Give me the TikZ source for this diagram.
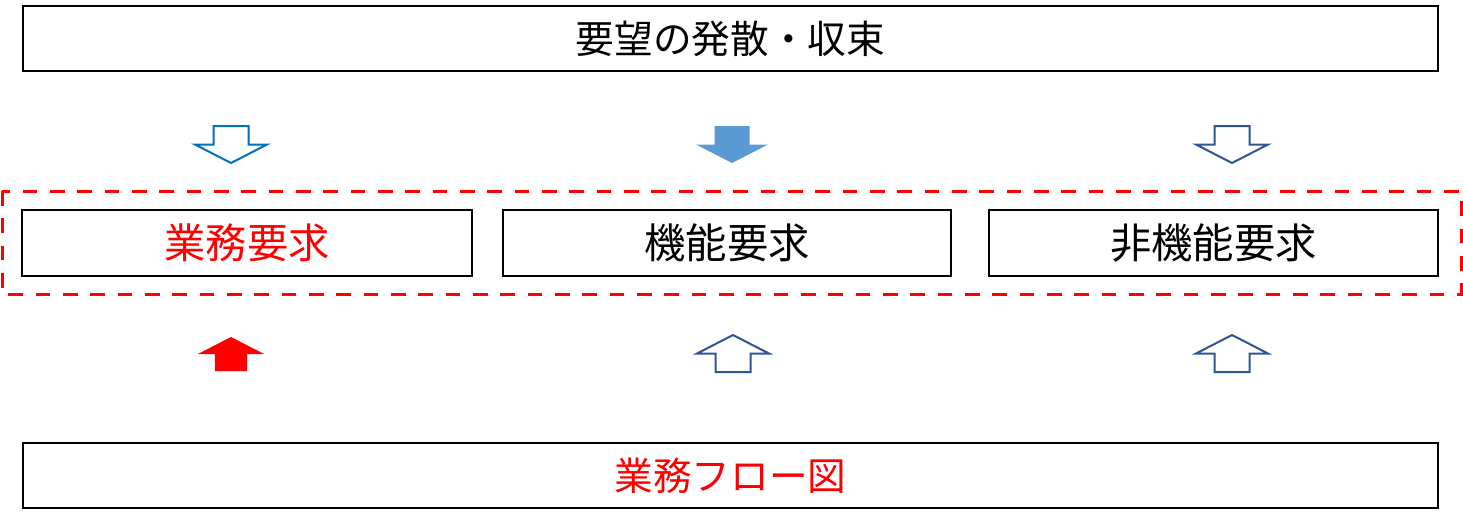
\documentclass[tikz,border=0pt]{standalone}
\usepackage{fontspec}
\setmainfont{Noto Sans CJK JP}
\usetikzlibrary{positioning}
\definecolor{arrowblue}{HTML}{0070C0}
\definecolor{arrowfill}{HTML}{5B9BD5}
\definecolor{arrowdark}{HTML}{2F5597}

\begin{document}
\begin{tikzpicture}[x=0.75pt,y=-0.75pt,
    box/.style={draw=black,line width=1.5pt,inner sep=0pt,
        font=\fontsize{29}{34}\selectfont},
    reqbox/.style={box,font=\fontsize{31}{36}\selectfont,
        minimum height=49.5pt},
    redtext/.style={text=red},
    dashframe/.style={draw=red,line width=2.25pt,dash pattern=on 11pt off 9.5pt},
    blockarrow/.pic={
        \path[pic actions] (-17.5,-18.5) -- (17.5,-18.5) -- (17.5,0) -- (36,0)
            -- (0,18.5) -- (-36,0) -- (-17.5,0) -- cycle;
    },
    openarrow/.style={draw=#1,line width=1.5pt,fill=white},
    fullarrow/.style={fill=#1,draw=none}]
        \useasboundingbox (0,0) rectangle (1463,526);

        % Top box
        \node[box,minimum width=1061.25pt,minimum height=48.75pt] (diverge) at (730.5,38.5)
            {要望の発散・収束};

        % Requirement boxes
        \node[reqbox,redtext,minimum width=337.5pt] (bizreq) at (247,243) {業務要求};
        \node[reqbox,minimum width=336pt] (funcreq) at (727,243) {機能要求};
        \node[reqbox,minimum width=336.75pt] (nonfuncreq) at (1213.5,243) {非機能要求};
        \draw[dashframe] (2,191) rectangle (1461,294);

        % Bottom box
        \node[box,redtext,minimum width=1061.25pt,minimum height=48.75pt] (bizflow) at (730.5,475.5)
            {業務フロー図};

        % Down arrows
        \pic[openarrow=arrowblue] at (231,144.5) {blockarrow};
        \pic[fullarrow=arrowfill] at (732,144.5) {blockarrow};
        \pic[openarrow=arrowdark] at (1232,144.5) {blockarrow};

        % Up arrows
        \pic[fullarrow=red,rotate=180,scale=0.92] at (231,354) {blockarrow};
        \pic[openarrow=arrowdark,rotate=180] at (733,353.5) {blockarrow};
        \pic[openarrow=arrowdark,rotate=180] at (1232,353.5) {blockarrow};

    \end{tikzpicture}
\end{document}
